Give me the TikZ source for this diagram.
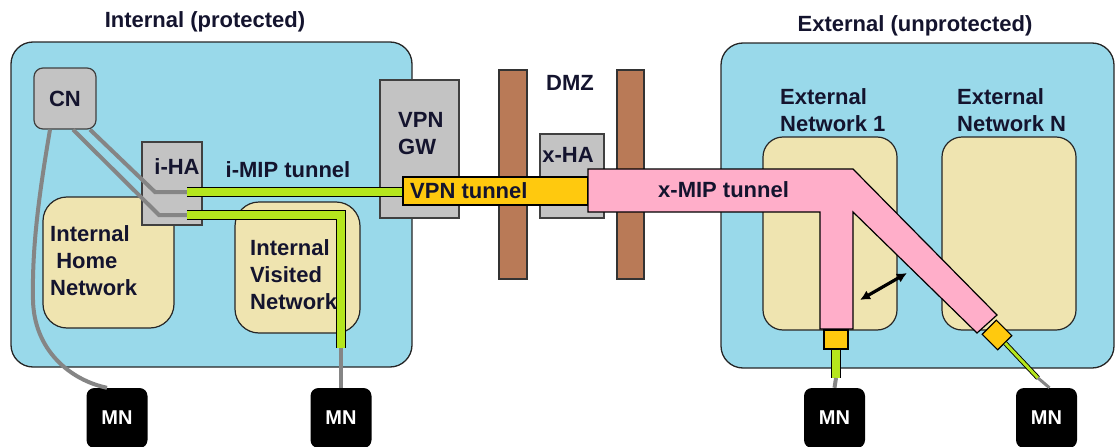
\documentclass[tikz,border=0pt]{standalone}
\usepackage{fontspec}
\setmainfont{Liberation Sans}
\usetikzlibrary{arrows.meta,positioning}
\definecolor{skyzone}{HTML}{99D9EA}
\definecolor{sand}{HTML}{EFE4B0}
\definecolor{devgray}{HTML}{C3C3C3}
\definecolor{brick}{HTML}{B97A57}
\definecolor{amber}{HTML}{FFC90E}
\definecolor{rose}{HTML}{FFAEC9}
\definecolor{lime}{HTML}{B5E61D}
\definecolor{wiregray}{HTML}{858585}
\definecolor{ink}{HTML}{14142E}

\begin{document}
\begin{tikzpicture}[x=1pt,y=-1pt,>=Latex,
font=\fontsize{22}{27}\selectfont\bfseries,
zone/.style={draw=black!85,line width=1.3pt,fill=skyzone,rounded corners=22pt,inner sep=0pt},
net/.style={draw=black!85,line width=1.2pt,fill=sand,rounded corners=24pt,inner sep=0pt},
dev/.style={draw=black!75,line width=1.2pt,fill=devgray,inner sep=0pt},
wall/.style={draw=black!80,line width=1.2pt,fill=brick,minimum height=209pt,inner sep=0pt},
mnbox/.style={fill=black,text=white,rounded corners=8pt,minimum width=61pt,minimum height=60pt,
  font=\fontsize{20}{24}\selectfont\bfseries},
txt/.style={inner sep=0pt,align=left,text=ink},
wire/.style={draw=wiregray,line width=4pt},
tun/.style={draw=black,line width=1.2pt,double=lime,double distance=8pt},
thintun/.style={draw=black,line width=0.9pt,double=lime,double distance=3pt},
plug/.style={draw=black,line width=1.2pt,fill=amber,inner sep=0pt}]
\useasboundingbox (0,0) rectangle (1117,447);
% zones
\node[zone,minimum width=401pt,minimum height=325pt] (int) at (211.5,204.5) {};
\node[zone,minimum width=393pt,minimum height=325pt] (ext) at (917.5,205.5) {};
\node[txt] (intl) at (205,22) {Internal (protected)};
\node[txt] (extl) at (915,26) {External (unprotected)};
% networks
\node[net,minimum width=131pt,minimum height=131pt] (home) at (108.5,262.5) {};
\node[net,minimum width=125pt,minimum height=131pt] (visit) at (297.5,267.5) {};
\node[net,rounded corners=20pt,minimum width=134pt,minimum height=193pt] (ext1) at (830,233.5) {};
\node[net,rounded corners=20pt,minimum width=134pt,minimum height=193pt] (extN) at (1009,233.5) {};
\node[txt,anchor=west] (ext1l) at (780,110.5) {External\\Network 1};
\node[txt,anchor=west] (extNl) at (957,110.5) {External\\Network N};
% devices
\node[dev,rounded corners=9pt,minimum width=62pt,minimum height=61pt,text=ink] (CN) at (65,98.5) {CN};
\node[dev,minimum width=60pt,minimum height=83pt] (iHA) at (172,183.5) {};
\node[txt] (iHAl) at (177,167) {i-HA};
\node[dev,minimum width=79pt,minimum height=138pt] (vpngw) at (419.5,149) {};
\node[txt,anchor=west] (vpngwl) at (398,133.5) {VPN\\GW};
\node[wall,minimum width=28pt] (fw1) at (513,174.5) {};
\node[wall,minimum width=27pt] (fw2) at (630.5,174.5) {};
\node[txt] (dmz) at (570,83) {DMZ};
\node[dev,minimum width=64pt,minimum height=84pt] (xHA) at (572,176) {};
\node[txt] (xHAl) at (568,155) {x-HA};
% mobile nodes
\node[mnbox] (mn1) at (117,418) {MN};
\node[mnbox] (mn2) at (341,418) {MN};
\node[mnbox] (mn3) at (834.5,418) {MN};
\node[mnbox] (mn4) at (1046.5,418) {MN};
% wires from CN
\coordinate (ha1) at (187,192);
\coordinate (ha2) at (187,215);
\draw[wire] ([xshift=25pt]CN.south) -- (155,192) -- (ha1);
\draw[wire] ([xshift=8pt]CN.south) -- (159,215) -- (ha2);
\draw[wire] ([xshift=-15pt]CN.south) .. controls (38,200) and (32,250) .. (33,300)
  .. controls (34,350) and (70,380) .. ([xshift=-10pt]mn1.north);
\node[txt,anchor=west] (homel) at (50,261) {Internal\\\hspace*{0.28em}Home\\Network};
\node[txt,anchor=west] (visitl) at (250,275) {Internal\\Visited\\Network};
% i-MIP tunnels
\coordinate (vis) at (341,348);
\node[txt] (imip) at (288,170) {i-MIP tunnel};
\draw[tun] (ha1) -- (vpngw.west |- ha1) -- (403,192);
\draw[tun] (ha2) -- (341,215) -- (vis);
\draw[wire] (vis) -- (mn2.north);
% VPN tunnel
\node[plug,minimum width=185pt,minimum height=28pt] (vpnt) at (495.5,191) {};
\node[txt,anchor=west] (vpntl) at (410,191) {VPN tunnel};
% x-MIP tunnel
\draw[black,line width=1.2pt,fill=rose] (588,169) -- (853,169) -- (997,315) -- (977,333)
  -- (853,212) -- (853,329) -- (820,329) -- (820,212) -- (588,212) -- cycle;
\node[txt,anchor=west] (xmip) at (658,190) {x-MIP tunnel};
\node[plug,minimum width=24pt,minimum height=19pt] (ob1) at (836,339.5) {};
\node[plug,minimum width=22pt,minimum height=20pt,rotate=-45] (ob2) at (997,335) {};
\coordinate (g1) at (836,378);
\coordinate (g2) at (1038,378);
\draw[tun] (ob1.south) -- (g1);
\draw[wire] (g1) -- (mn3.north);
\draw[thintun] (ob2.east) -- (g2);
\draw[wire,line width=3pt] (g2) -- ([xshift=3pt]mn4.north);
% handover
\coordinate (mv1) at (860,300);
\coordinate (mv2) at (907,273);
\draw[<->,line width=3.2pt,>={Latex[length=10pt,width=10pt]}] (mv1) -- (mv2);
\end{tikzpicture}
\end{document}
